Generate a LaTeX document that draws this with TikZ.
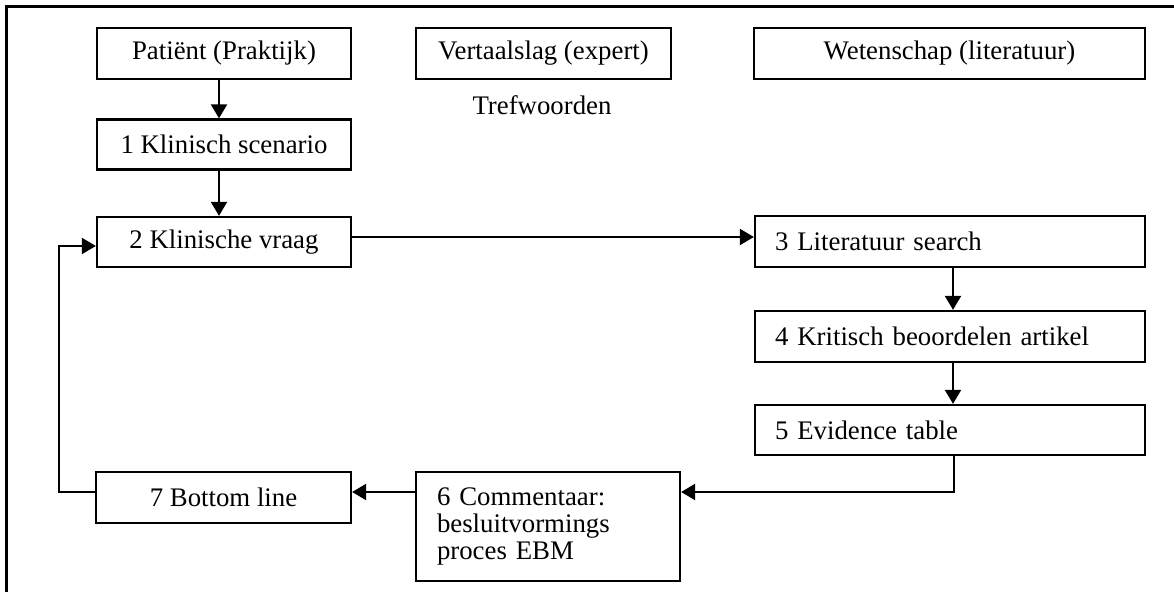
\documentclass[tikz,border=0pt]{standalone}
\usepackage{fontspec}
\setmainfont{Liberation Serif}
\usetikzlibrary{arrows.meta,calc}
\begin{document}
\begin{tikzpicture}[x=0.5pt,y=-0.5pt,
  every node/.style={font=\fontsize{13.4}{13.5}\selectfont},
  box/.style={draw,line width=1.15pt,inner sep=0pt,minimum height=25.5pt,align=center},
  lbox/.style={draw,line width=1.15pt,inner ysep=0pt,inner xsep=10pt,minimum height=25.5pt,text width=175pt,align=left},
  arr/.style={line width=1.15pt,-{Triangle[length=7pt,width=8pt]}},
  ln/.style={line width=1.15pt}]
\useasboundingbox (0,0) rectangle (1174,592);
\draw[ln] (6.5,592) -- (6.5,6.5) -- (1174,6.5);
\node[box,minimum width=127pt] (pat) at (224,53.5) {Patiënt (Praktijk)};
\node[box,minimum width=127.5pt] (vert) at (543.5,53.5) {Vertaalslag (expert)};
\node[box,minimum width=195.5pt] (wet) at (949.5,53.5) {Wetenschap (literatuur)};
\node[anchor=base,inner sep=0pt] (tref) at (542,115) {Trefwoorden};
\node[box,minimum width=127pt,minimum height=25pt] (scen) at (224,144.5) {1 Klinisch scenario};
\node[box,minimum width=127pt,minimum height=25pt] (vraag) at (224,242) {2 Klinische vraag};
\node[lbox] (lit) at (950,241.5) {3 Literatuur search};
\node[lbox] (krit) at (950,336.5) {4 Kritisch beoordelen artikel};
\node[lbox,minimum height=25pt] (evid) at (950,430) {5 Evidence table};
\node[box,minimum width=127.5pt] (bot) at (223.5,497.5) {7 Bottom line};
\node[draw,line width=1.15pt,inner ysep=0pt,inner xsep=10.5pt,text width=111pt,minimum height=54.5pt,align=left] (comm) at (548,526.5) {6 Commentaar:\\besluitvormings\\proces EBM};
\draw[arr] ([xshift=-2.5pt]pat.south) -- ([xshift=-2.5pt]scen.north);
\draw[arr] ([xshift=-2.5pt]scen.south) -- ([xshift=-2.5pt]vraag.north);
\draw[arr] ([yshift=2.5pt]vraag.east) -- ([yshift=2.5pt]vraag.east -| lit.west);
\draw[arr] ([xshift=1.5pt]lit.south) -- ([xshift=1.5pt]krit.north);
\draw[arr] ([xshift=1.5pt]krit.south) -- ([xshift=1.5pt]evid.north);
\draw[arr] ([xshift=2pt]evid.south) |- ([yshift=17.25pt]comm.east);
\draw[arr] ([yshift=17.25pt]comm.west) -- ([yshift=17.25pt]comm.west -| bot.east);
\draw[arr] ([yshift=2.75pt]bot.west) -- ++(-18pt,0) |- ([yshift=-2pt]vraag.west);
\end{tikzpicture}
\end{document}
